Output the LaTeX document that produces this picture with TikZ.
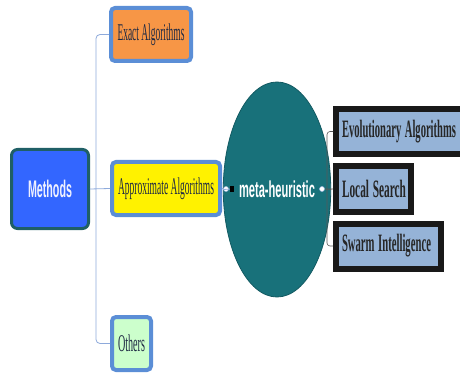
\documentclass[tikz,border=0pt]{standalone}
\usepackage{fontspec}
\usepackage{graphicx}
\usetikzlibrary{shapes.geometric}
\setmainfont{Liberation Serif}
\newfontfamily\headfont{Liberation Sans}
% squeeze a label to a given width, keep its height
\newcommand{\narrow}[2]{\resizebox{#1}{\height}{#2}}
\definecolor{mblue}{HTML}{3366FF}
\definecolor{mteal}{HTML}{1F5F66}
\definecolor{bframe}{HTML}{5B8ED6}
\definecolor{borange}{HTML}{F79646}
\definecolor{bgreen}{HTML}{CCFFCC}
\definecolor{etal}{HTML}{18717A}
\definecolor{rfill}{HTML}{95B3D7}
\definecolor{lnk}{HTML}{8EAADB}
\definecolor{ltxt}{HTML}{1F2A44}
\definecolor{htxt}{HTML}{EEF0FF}
\begin{document}
\begin{tikzpicture}[x=1pt,y=-1pt,
	leftbox/.style={draw=bframe,line width=4pt,rounded corners=4pt,minimum height=53pt,inner sep=0pt,
		text=ltxt,font=\fontsize{24}{26}\selectfont},
	rightbox/.style={draw=black!90,fill=rfill,line width=6pt,anchor=west,inner xsep=6pt,inner ysep=0pt,
		minimum height=45pt,align=left,text=black!85,font=\bfseries\fontsize{25}{27}\selectfont},
	link/.style={draw=lnk,line width=0.8pt,rounded corners=4pt},
	blink/.style={draw=black!65,line width=0.6pt,rounded corners=3pt},
	knob/.style={circle,draw=lnk!80,fill=white,line width=0.5pt,minimum size=5pt,inner sep=0pt}]
	\useasboundingbox (0,0) rectangle (460,374);
	% root and first level
	\node[draw=mteal,fill=mblue,line width=3pt,rounded corners=6pt,minimum width=77pt,minimum height=79pt,
		text=htxt,font=\headfont\bfseries\fontsize{24}{26}\selectfont] (methods) at (50,189) {\narrow{44pt}{Methods}};
	\node[leftbox,fill=borange,minimum width=80pt] (exact) at (151,34.5) {\narrow{67pt}{Exact Algorithms}};
	\node[leftbox,fill=yellow,minimum width=108pt] (approx) at (166,188.5) {\narrow{96pt}{Approximate Algorithms}};
	\node[leftbox,fill=bgreen,minimum width=39pt] (others) at (131.5,343.5) {\narrow{27pt}{Others}};
	\coordinate (trunk) at (96,189);
	\draw[link] (methods.east) -- (approx.west);
	\draw[link] (trunk) |- (exact.west);
	\draw[link] (trunk) |- (others.west);
	% meta-heuristic
	\node[ellipse,draw=etal!80!black,fill=etal,line width=0.8pt,minimum width=84pt,minimum height=215pt,inner sep=0pt,
		text=white,font=\headfont\bfseries\fontsize{23}{25}\selectfont] (meta) at (277,189.5) {\narrow{76pt}{meta-heuristic}};
	\node[knob] (k1) at (226,189) {};
	\node[fill=black,minimum width=4pt,minimum height=6pt,inner sep=0pt] (sq) at (232,189) {};
	\draw[link] (approx.east) -- (k1) (k1) -- (sq) (sq) -- (meta.west);
	% second level
	\node[rightbox,text width=122pt] (evo) at (333,131.5) {\narrow{114pt}{Evolutionary Algorithms}};
	\node[rightbox,text width=63pt] (local) at (333,189) {\narrow{64pt}{Local Search}};
	\node[rightbox,text width=93pt] (swarm) at (333,246) {\narrow{89pt}{Swarm Intelligence}};
	\node[knob] (k2) at (322,189) {};
	\coordinate (brace) at (327,189);
	\draw[blink] (meta.east) -- (k2) (k2) -- (local.west);
	\draw[blink] (brace) |- (evo.west);
	\draw[blink] (brace) |- (swarm.west);
\end{tikzpicture}
\end{document}
